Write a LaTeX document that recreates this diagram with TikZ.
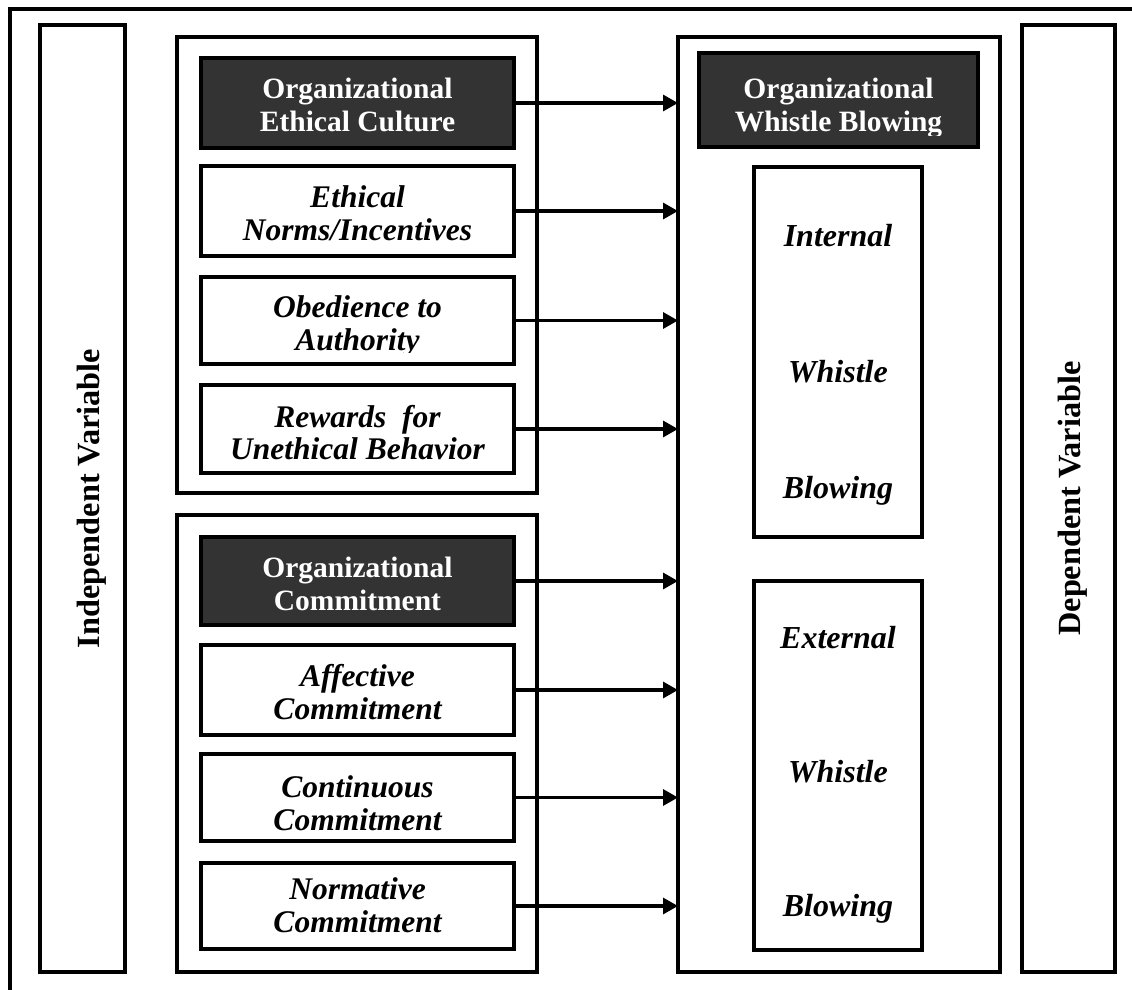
\documentclass[tikz,border=0pt]{standalone}
\usepackage{fontspec}
\setmainfont{Liberation Serif}
\usetikzlibrary{arrows.meta}
\definecolor{boxdark}{HTML}{333333}
\tikzset{
  box/.style={draw, line width=3.4pt, inner sep=0pt, outer sep=0pt},
  darkbox/.style={box, fill=boxdark},
  arr/.style={line width=3.2pt, -{Triangle[length=15pt,width=16pt]}},
  wtl/.style={inner sep=0pt, anchor=base, text=white, font=\fontsize{29.5}{33}\selectfont\bfseries},
  itl/.style={inner sep=0pt, anchor=base, font=\fontsize{31.5}{33}\selectfont\bfseries\itshape},
  rtl/.style={inner sep=0pt, anchor=base, font=\fontsize{32}{33}\selectfont\bfseries\itshape},
  vlab/.style={inner sep=0pt, rotate=90, anchor=base, font=\fontsize{32.3}{33}\selectfont\bfseries},
}
\begin{document}
\begin{tikzpicture}[x=1pt,y=-1pt]
\useasboundingbox (0,0) rectangle (1132,990);
\begin{scope}
  \clip (0,0) rectangle (1132,990);
  \draw[line width=3.4pt] (10,1000) -- (10,9) -- (1140,9);
\end{scope}
% side boxes
\node[box, minimum width=85pt, minimum height=947pt] (indep) at (82.5,498.5) {};
\node[vlab] (indeptxt) at (99,498.5) {Independent Variable};
\node[box, minimum width=93pt, minimum height=947pt] (dep) at (1068.5,498.5) {};
\node[vlab] (deptxt) at (1080,498.5) {Dependent Variable};
% group boxes
\node[box, minimum width=360pt, minimum height=456pt] (G1) at (357,265) {};
\node[box, minimum width=360pt, minimum height=457pt] (G2) at (357,743.5) {};
\node[box, minimum width=322pt, minimum height=935pt] (R) at (839,504.5) {};
% left boxes
\node[darkbox, minimum width=313pt, minimum height=90pt] (ethC) at (357.5,103) {};
\node[box, minimum width=313pt, minimum height=90pt] (norms) at (357.5,211) {};
\node[box, minimum width=313pt, minimum height=87pt] (obed) at (357.5,320.5) {};
\node[box, minimum width=313pt, minimum height=88pt] (rew) at (357.5,429) {};
\node[darkbox, minimum width=313pt, minimum height=88pt] (comm) at (357.5,581) {};
\node[box, minimum width=313pt, minimum height=90pt] (aff) at (357.5,690) {};
\node[box, minimum width=313pt, minimum height=87pt] (cont) at (357.5,797.5) {};
\node[box, minimum width=313pt, minimum height=86pt] (norm) at (357.5,906) {};
% right boxes
\node[darkbox, minimum width=279pt, minimum height=94pt] (wb) at (838.5,100) {};
\node[box, minimum width=168pt, minimum height=370pt] (int) at (838,352) {};
\node[box, minimum width=168pt, minimum height=369pt] (ext) at (838,765.5) {};
% texts
\node[wtl] (ethCa) at (357.5,98) {Organizational};
\node[wtl] (ethCb) at (357.5,131) {Ethical Culture};
\node[itl] (normsa) at (357.5,207) {Ethical};
\node[itl] (normsb) at (357.5,240) {Norms/Incentives};
\node[itl] (obeda) at (357.5,317) {Obedience to};
\begin{scope}
  \clip (201,300) rectangle (514,352);
  \node[itl] (obedb) at (357.5,350) {Authority};
\end{scope}
\node[itl] (rewa) at (357.5,427) {Rewards\ \ for};
\node[itl] (rewb) at (357.5,459) {Unethical Behavior};
\node[wtl] (comma) at (357.5,577) {Organizational};
\node[wtl] (commb) at (357.5,610) {Commitment};
\node[itl] (affa) at (357.5,686) {Affective};
\node[itl] (affb) at (357.5,719) {Commitment};
\node[itl] (conta) at (357.5,797) {Continuous};
\begin{scope}
  \clip (201,780) rectangle (514,830);
  \node[itl] (contb) at (357.5,830) {Commitment};
\end{scope}
\node[itl] (norma) at (357.5,899) {Normative};
\node[itl] (normb) at (357.5,932) {Commitment};
\node[wtl] (wba) at (838.5,98) {Organizational};
\begin{scope}
  \clip (699,105) rectangle (978,135);
  \node[wtl] (wbb) at (838.5,131) {Whistle Blowing};
\end{scope}
\node[rtl] (inta) at (838,246) {Internal};
\node[rtl] (intb) at (838,382) {Whistle};
\node[rtl] (intc) at (838,498) {Blowing};
\node[rtl] (exta) at (838,648) {External};
\node[rtl] (extb) at (838,782) {Whistle};
\node[rtl] (extc) at (838,916) {Blowing};
% arrows
\foreach \b in {ethC,norms,obed,rew,comm,aff,cont,norm}
  \draw[arr] (\b.east) -- (\b.east -| R.west);
\end{tikzpicture}
\end{document}
